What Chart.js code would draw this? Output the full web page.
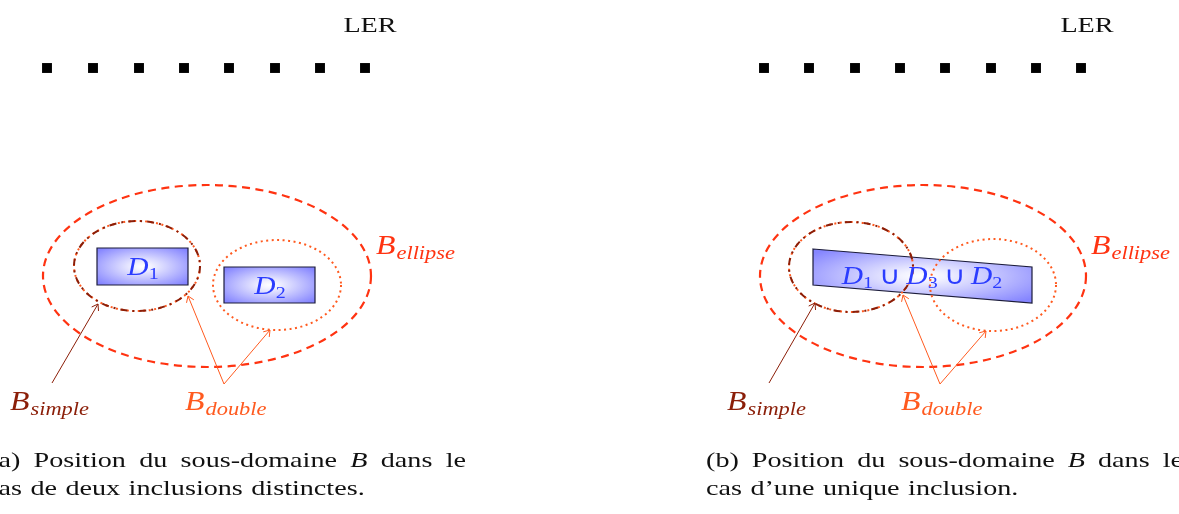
<!DOCTYPE html>
<html>
<head>
<meta charset="utf-8">
<script src="https://cdn.jsdelivr.net/npm/chart.js@4.4.1/dist/chart.umd.min.js"></script>
<style>
  html, body { margin: 0; padding: 0; background: #fff; overflow: hidden; }
  #wrap { width: 1179px; height: 514px; }
</style>
</head>
<body>
<div id="wrap"><canvas id="fig"></canvas></div>
<script>
// LER marker rows, panel (a) and panel (b)
const lerXA = [47, 93, 139, 184, 229, 275, 320, 365];
const lerXB = [764, 809, 855, 900, 945, 991, 1036, 1081];
const lerY = [68, 68, 68, 68, 68, 68, 68, 68];

// ellipses as [cx, cy, rx, ry] : panel a, panel b
const bigEllipse = [[207, 276, 164, 91], [923, 276, 163, 91]];
const simpleEllipse = [[137, 266, 63, 45], [851, 267, 62, 45]];
const d2Ellipse = [[277, 285, 64, 45], [993, 285, 63, 46]];

// inclusions (corner points)
const rectD1 = [[97, 248], [188, 248], [188, 285], [97, 285]];
const rectD2 = [[224, 267], [315, 267], [315, 303], [224, 303]];
const rectD123 = [[813, 249], [1032, 267], [1032, 303], [813, 285]];

// arrows [fromX, fromY, toX, toY]
const arrowsSimple = [[52, 383, 98, 304], [769, 383, 815, 303]];
const arrowsDouble = [[224, 384, 188, 296], [224, 384, 270, 330], [940, 384, 903, 295], [940, 384, 986, 331]];

const RED = '#ff3311';
const DARK = '#8b1e08';
const ORANGE = '#ff5a1f';
const BLUE = '#2b3cff';
const SX_TEXT = 1.28; // roman text is wider than the serif font we have
const SX_MATH = 1.18;

const datasets = [
  { type: 'scatter', data: lerXA.map((x, i) => ({ x: x, y: lerY[i] })), pointStyle: 'rect', pointRadius: 7, backgroundColor: '#000', borderWidth: 0 },
  { type: 'scatter', data: lerXB.map((x, i) => ({ x: x, y: lerY[i] })), pointStyle: 'rect', pointRadius: 7, backgroundColor: '#000', borderWidth: 0 }
];
arrowsSimple.forEach(a => datasets.push({ type: 'line', data: [{ x: a[0], y: a[1] }, { x: a[2], y: a[3] }], borderColor: DARK, borderWidth: 1, pointRadius: 0, arrow: true }));
arrowsDouble.forEach(a => datasets.push({ type: 'line', data: [{ x: a[0], y: a[1] }, { x: a[2], y: a[3] }], borderColor: ORANGE, borderWidth: 1, pointRadius: 0, arrow: true }));

function txt(ctx, s, x, y, font, color, sx) {
  ctx.save();
  ctx.font = font;
  ctx.fillStyle = color;
  ctx.textAlign = 'left';
  ctx.textBaseline = 'alphabetic';
  const w = ctx.measureText(s).width * sx;
  ctx.translate(x, y);
  ctx.scale(sx, 1);
  ctx.fillText(s, 0, 0);
  ctx.restore();
  return w;
}
function txtW(ctx, s, font, sx) { ctx.save(); ctx.font = font; const w = ctx.measureText(s).width * sx; ctx.restore(); return w; }

// B with subscript
function mathB(ctx, sub, x, y, color) {
  const w = txt(ctx, 'B', x, y, 'italic 27px "Liberation Serif"', color, SX_MATH);
  txt(ctx, sub, x + w + 1, y + 5, 'italic 19px "Liberation Serif"', color, SX_MATH);
}

// sequence of [text, font, dy, gapAfter] pieces, centred
function seq(ctx, parts, cx, y, color) {
  let tot = 0;
  parts.forEach(p => tot += txtW(ctx, p[0], p[1], SX_MATH) + (p[3] || 0));
  let x = cx - tot / 2;
  parts.forEach(p => { x += txt(ctx, p[0], x, y + (p[2] || 0), p[1], color, SX_MATH) + (p[3] || 0); });
}

function justified(ctx, words, x, y, width, color) {
  const fonts = words.map(w => Array.isArray(w) ? w[1] : '22px "Liberation Serif"');
  const strs = words.map(w => Array.isArray(w) ? w[0] : w);
  let tot = 0;
  strs.forEach((s, i) => tot += txtW(ctx, s, fonts[i], SX_TEXT));
  const gap = width ? (width - tot) / (strs.length - 1) : txtW(ctx, ' ', fonts[0], SX_TEXT) * 1.2;
  let cx = x;
  strs.forEach((s, i) => { cx += txt(ctx, s, cx, y, fonts[i], color, SX_TEXT) + gap; });
}

const figPlugin = {
  id: 'fig',
  beforeDatasetsDraw(chart) {
    const ctx = chart.ctx, xs = chart.scales.x, ys = chart.scales.y;
    const px = v => xs.getPixelForValue(v), py = v => ys.getPixelForValue(v);

    // inclusions with radial shading
    [rectD1, rectD2, rectD123].forEach(r => {
      const P = r.map(p => [px(p[0]), py(p[1])]);
      const minX = Math.min(...P.map(p => p[0])), maxX = Math.max(...P.map(p => p[0]));
      const minY = Math.min(...P.map(p => p[1])), maxY = Math.max(...P.map(p => p[1]));
      const cx = (minX + maxX) / 2, cy = (minY + maxY) / 2;
      const hw = (maxX - minX) / 2, hh = (maxY - minY) / 2;
      ctx.save();
      ctx.beginPath();
      P.forEach((p, i) => i ? ctx.lineTo(p[0], p[1]) : ctx.moveTo(p[0], p[1]));
      ctx.closePath();
      ctx.save();
      ctx.clip();
      ctx.translate(cx, cy);
      ctx.scale(hw / hh, 1);
      const g = ctx.createRadialGradient(0, 0, 0, 0, 0, hh * 1.3);
      g.addColorStop(0, '#ffffff');
      g.addColorStop(0.15, '#f2f2ff');
      g.addColorStop(1, '#8585ff');
      ctx.fillStyle = g;
      ctx.fillRect(-hh * 2, -hh * 2, hh * 4, hh * 4);
      ctx.restore();
      ctx.strokeStyle = '#1c1c3a';
      ctx.lineWidth = 1.2;
      ctx.stroke();
      ctx.restore();
    });

    function ell(e, color, width, dash, cap) {
      ctx.save();
      ctx.beginPath();
      const cx = px(e[0]), cy = py(e[1]);
      const rx = Math.abs(px(e[0] + e[2]) - cx), ry = Math.abs(py(e[1] + e[3]) - cy);
      ctx.ellipse(cx, cy, rx, ry, 0, 0, Math.PI * 2);
      ctx.strokeStyle = color;
      ctx.lineWidth = width;
      ctx.setLineDash(dash);
      ctx.lineCap = cap || 'butt';
      ctx.stroke();
      ctx.restore();
    }
    bigEllipse.forEach(e => ell(e, RED, 2.2, [8, 5.5]));
    simpleEllipse.forEach(e => ell(e, ORANGE, 2, [2, 3.5]));
    d2Ellipse.forEach(e => ell(e, ORANGE, 2, [2, 3.5]));
    simpleEllipse.forEach(e => ell(e, DARK, 2, [7, 5, 2, 5]));
  },
  afterDatasetsDraw(chart) {
    const ctx = chart.ctx;
    // arrow heads
    chart.data.datasets.forEach((ds, i) => {
      if (!ds.arrow) return;
      const pts = chart.getDatasetMeta(i).data;
      const a = pts[0], b = pts[1];
      const ang = Math.atan2(b.y - a.y, b.x - a.x);
      ctx.save();
      ctx.strokeStyle = ds.borderColor;
      ctx.lineWidth = 1;
      ctx.beginPath();
      [-0.6, 0.6].forEach(d => {
        ctx.moveTo(b.x, b.y);
        ctx.lineTo(b.x - 7 * Math.cos(ang + d), b.y - 7 * Math.sin(ang + d));
      });
      ctx.stroke();
      ctx.restore();
    });

    const serif = '22px "Liberation Serif"';
    const lw = txtW(ctx, 'LER', serif, SX_TEXT);
    txt(ctx, 'LER', 370 - lw / 2, 32, serif, '#111', SX_TEXT);
    txt(ctx, 'LER', 1087 - lw / 2, 32, serif, '#111', SX_TEXT);

    const D = 'italic 25px "Liberation Serif"', N = '17px "Liberation Serif"', R = '25px "Liberation Serif"';
    seq(ctx, [['D', D], ['1', N, 4]], 143, 275, BLUE);
    seq(ctx, [['D', D], ['2', N, 4]], 270, 294, BLUE);
    seq(ctx, [['D', D], ['1', N, 4, 6], ['\u222a', R, 0, 6], ['D', D], ['3', N, 4, 6], ['\u222a', R, 0, 6], ['D', D], ['2', N, 4]], 922, 284, BLUE);

    mathB(ctx, 'ellipse', 376, 254, RED);
    mathB(ctx, 'ellipse', 1091, 254, RED);
    mathB(ctx, 'simple', 10, 410, DARK);
    mathB(ctx, 'simple', 727, 410, DARK);
    mathB(ctx, 'double', 185, 410, ORANGE);
    mathB(ctx, 'double', 901, 410, ORANGE);

    const capB = ['B', 'italic 22px "Liberation Serif"'];
    justified(ctx, ['(a)', 'Position', 'du', 'sous-domaine', capB, 'dans', 'le'], -11, 467, 477, '#111');
    justified(ctx, ['cas', 'de', 'deux', 'inclusions', 'distinctes.'], -14, 495, 0, '#111');
    justified(ctx, ['(b)', 'Position', 'du', 'sous-domaine', capB, 'dans', 'le'], 706, 467, 477, '#111');
    justified(ctx, ['cas', 'd\u2019une', 'unique', 'inclusion.'], 706, 495, 0, '#111');
  }
};

new Chart(document.getElementById('fig'), {
  data: { datasets: datasets },
  options: {
    responsive: true,
    maintainAspectRatio: false,
    animation: false,
    layout: { padding: 0, autoPadding: false },
    plugins: { legend: { display: false }, tooltip: { enabled: false } },
    scales: {
      x: { type: 'linear', min: 0, max: 1179, display: false },
      y: { type: 'linear', min: 0, max: 514, reverse: true, display: false }
    }
  },
  plugins: [figPlugin]
});
</script>
</body>
</html>
